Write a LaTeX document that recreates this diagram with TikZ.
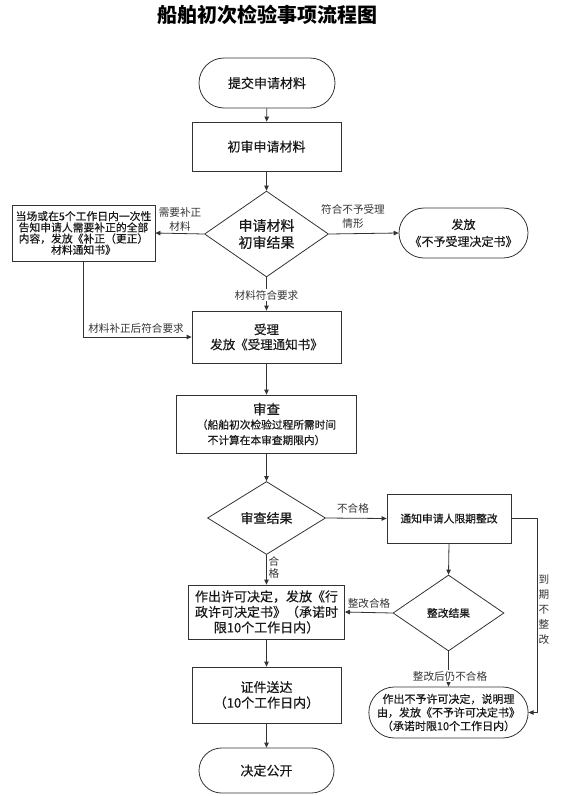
\documentclass[tikz,border=0pt]{standalone}
\usepackage{fontspec}
\setmainfont{Noto Sans CJK SC}
\newfontfamily\heifont[FakeBold=0.45]{Noto Sans CJK SC}
\usetikzlibrary{arrows.meta,shapes.geometric,shapes.misc}
\begin{document}
\begin{tikzpicture}[x=1pt,y=-1pt,
  line/.style={draw=black!80, line width=0.8pt},
  arr/.style={line, -{Triangle[length=5pt,width=4.5pt]}},
  box/.style={draw=black!80, line width=0.8pt, rectangle, align=center, inner sep=1pt, text=black!90, font=\heifont\fontsize{13}{15.5}\selectfont},
  term/.style={box, rounded rectangle},
  dia/.style={box, diamond, inner sep=0pt},
  lbl/.style={align=center, inner sep=1pt, text=black!80, font=\fontsize{10.6}{14}\selectfont}]
\useasboundingbox (0,0) rectangle (563,796);

\node[font=\bfseries\fontsize{20}{24}\selectfont] (title) at (267,15) {船舶初次检验事项流程图};

\node[term, minimum width=138pt, minimum height=50pt] (t1) at (267,83) {提交申请材料};
\node[box, minimum width=149pt, minimum height=49pt] (b1) at (266.5,146.5) {初审申请材料};
\node[dia, minimum width=124pt, minimum height=78pt, font=\heifont\fontsize{14}{17}\selectfont] (d1) at (266.5,234) {申请材料\\初审结果};
\node[box, minimum width=143pt, minimum height=56pt, font=\heifont\fontsize{10.8}{11.2}\selectfont] (L) at (83.5,233) {当场或在5个工作日内一次性\\告知申请人需要补正的全部\\内容，发放《补正（更正）\\材料通知书》};
\node[term, minimum width=131pt, minimum height=50pt, font=\heifont\fontsize{12}{17}\selectfont] (R) at (463.5,233) {发放\\《不予受理决定书》};
\node[box, minimum width=149pt, minimum height=52pt, font=\heifont\fontsize{12.5}{15}\selectfont] (b2) at (266.5,337) {受理\\发放《受理通知书》};
\node[box, minimum width=180pt, minimum height=58pt] (b3) at (266.5,424) {{\fontsize{13.5}{15}\selectfont 审查}\\[-1pt]{\fontsize{10.7}{13}\selectfont （船舶初次检验过程所需时间}\\{\fontsize{10.7}{13}\selectfont 不计算在本审查期限内）}};
\node[dia, minimum width=118pt, minimum height=73pt] (d2) at (266.5,518) {审查结果};
\node[box, minimum width=124pt, minimum height=49pt, font=\heifont\fontsize{10.8}{13}\selectfont] (b4) at (449,518.5) {通知申请人限期整改};
\node[dia, minimum width=111pt, minimum height=76pt, font=\heifont\fontsize{10.8}{13}\selectfont] (d3) at (448.5,613) {整改结果};
\node[box, minimum width=156pt, minimum height=54pt] (b5) at (266.5,612) {作出许可决定，发放《行\\政许可决定书》（承诺时\\限10个工作日内）};
\node[term, minimum width=149pt, minimum height=51pt, inner sep=0pt, font=\heifont\fontsize{11}{13.5}\selectfont] (t2) at (448.5,712.5) {作出不予许可决定，说明理\\由，发放《不予许可决定书》\\（承诺时限10个工作日内）};
\node[box, minimum width=149pt, minimum height=56pt] (b6) at (266.5,695) {证件送达\\（10个工作日内）};
\node[term, minimum width=137pt, minimum height=45pt] (t3) at (266.5,770.5) {决定公开};

\coordinate (c1) at (537,518.5);
\coordinate (c2) at (537,712.5);

\draw[arr] (t1) -- (b1);
\draw[arr] (b1) -- (d1);
\draw[arr] (d1.west) -- (L.east);
\draw[arr] (d1.east) -- (R.west);
\draw[arr] (d1.south) -- (b2.north);
\draw[arr] (L.south) |- (b2.west);
\draw[arr] (b2) -- (b3);
\draw[arr] (b3) -- (d2);
\draw[arr] (d2.east) -- (b4.west);
\draw[arr] (d2.south) -- (b5.north);
\draw[arr] (b4.south) -- (d3.north);
\draw[arr] (d3.west) -- (b5.east);
\draw[arr] (d3.south) -- (t2.north);
\draw[arr] (b4.east) -- (c1) -- (c2) -- (t2.east);
\draw[arr] (b5) -- (b6);
\draw[arr] (b6) -- (t3);

\node[lbl] (l1) at (180,219.5) {需要补正\\材料};
\node[lbl] (l2) at (353,216) {符合不予受理\\情形};
\node[lbl, fill=white] (l3) at (266.5,295) {材料符合要求};
\node[lbl] (l4) at (136,328) {材料补正后符合要求};
\node[lbl] (l5) at (353,508) {不合格};
\node[lbl, font=\fontsize{10.6}{12}\selectfont] (l6) at (274,567) {合\\格};
\node[lbl] (l7) at (369,603) {整改合格};
\node[lbl, fill=white] (l8) at (450,676) {整改后仍不合格};
\node[lbl, font=\fontsize{10.6}{15}\selectfont] (l9) at (544,610) {到\\期\\不\\整\\改};
\end{tikzpicture}
\end{document}
